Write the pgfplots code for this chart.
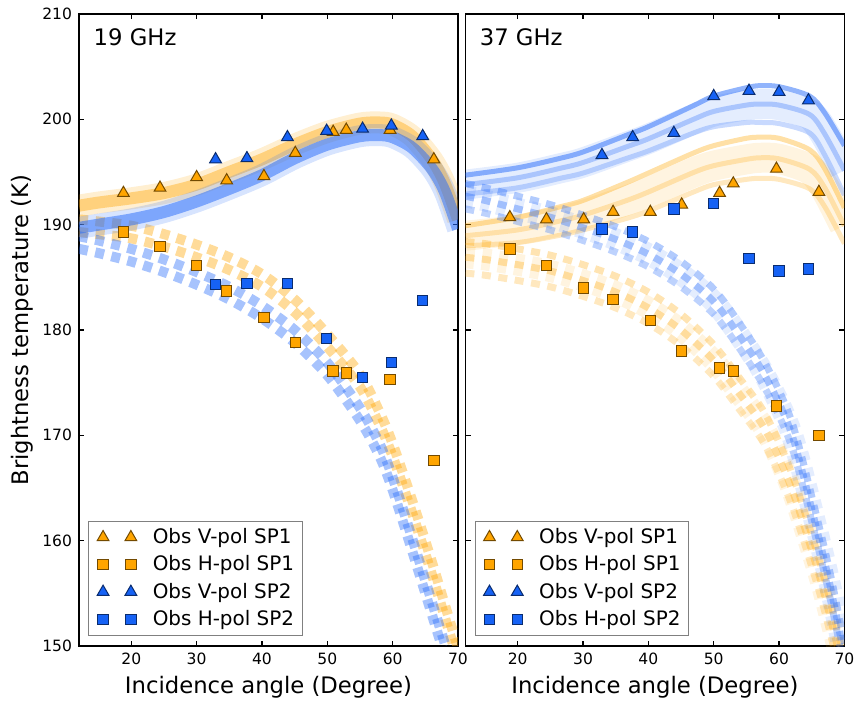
\documentclass[border=0pt]{standalone}
\usepackage{fontspec}
\setmainfont{DejaVu Sans}
\usepackage{pgfplots}
\usepackage{pgfplotstable}
\pgfplotsset{compat=1.18}

\definecolor{cOr}{RGB}{255,165,0}
\definecolor{cBl}{RGB}{22,98,245}
\definecolor{cBand}{RGB}{35,105,250}

% model curves, 19 GHz (H-pol as upper / lower member of the ensemble)
\pgfplotstableread{
x    vo    vb    hoU   hoL   hbU   hbL
12   191.8 189.7 190.5 189.3 188.9 187.7
15   192.1 190.0 190.3 189.1 188.5 187.3
20   192.5 190.5 189.9 188.7 187.7 186.5
25   193.0 191.2 189.1 187.9 186.7 185.5
30   193.8 192.2 188.1 186.9 185.5 184.3
35   195.0 193.4 186.9 185.7 184.1 182.9
40   196.2 194.7 185.3 184.1 182.3 181.1
45   197.6 196.3 182.9 181.7 180.0 178.8
50   198.8 197.6 179.6 178.4 176.9 175.7
55   199.6 198.4 175.8 174.6 172.6 171.4
58   199.7 198.5 172.2 171.0 169.2 168.0
60   199.5 198.3 169.2 168.0 166.0 164.8
63   198.4 197.3 163.8 162.6 160.2 159.0
66   196.2 195.3 158.0 156.8 154.2 153.0
68   193.9 193.1 153.9 152.7 150.2 149.0
70   190.5 189.6 149.8 148.6 146.1 144.9
}\aband

% model curves, 37 GHz, V-pol (upper / middle / lower member)
\pgfplotstableread{
x    bu    bm     bl    ou    om     ol
12   194.7 193.8  192.9 189.9 188.95 188.0
20   195.4 194.45 193.5 190.7 189.5  188.3
26.5 196.3 195.35 194.4 191.7 190.35 189.0
30   196.9 195.9  194.9 192.3 190.9  189.5
36.7 198.5 197.4  196.3 194.0 192.3  190.6
40   199.3 198.15 197.0 194.9 193.1  191.3
46.9 201.3 200.0  198.7 196.8 194.95 193.1
50   202.2 200.75 199.3 197.5 195.6  193.8
55   203.0 201.35 199.7 198.2 196.2  194.3
57.1 203.2 201.45 199.7 198.3 196.35 194.4
60   203.1 201.35 199.6 198.2 196.25 194.3
64.7 202.2 200.45 198.7 197.1 195.25 193.4
67   200.6 198.6  196.6 195.3 193.5  191.7
70   197.5 195.15 192.8 191.6 189.9  188.2
}\bvband

% model curves, 37 GHz, H-pol (upper / middle / lower member)
\pgfplotstableread{
x    hbU   hb    hbL   hoU   ho    hoL
12   193.9 192.7 191.5 188.4 186.9 185.4
15   193.5 192.3 191.1 188.2 186.7 185.2
20   192.7 191.5 190.3 187.7 186.2 184.7
25   191.9 190.7 189.5 187.1 185.6 184.1
30   190.9 189.7 188.5 186.2 184.7 183.2
35   189.8 188.6 187.4 185.1 183.6 182.1
40   188.4 187.2 186.0 183.6 182.1 180.6
45   186.5 185.3 184.1 181.5 180.0 178.5
50   183.9 182.7 181.5 178.6 177.1 175.6
54   180.6 179.4 178.2 175.4 173.9 172.4
58   176.7 175.5 174.3 171.9 170.4 168.9
62   171.2 170.0 168.8 166.3 164.8 163.3
66   161.7 160.5 159.3 158.5 157.0 155.5
68   156.4 155.2 154.0 153.8 152.3 150.8
70   150.2 149.0 147.8 148.7 147.2 145.7
}\bhband

\pgfplotsset{
  panel/.style={
    scale only axis, width=189.5bp, height=316bp,
    xmin=12, xmax=70, ymin=150, ymax=210,
    xtick={20,30,...,70}, ytick={150,160,...,210},
    xtick pos=both, ytick pos=both, tick align=inside,
    xticklabel pos=lower,
    major tick length=2.7bp,
    every tick/.style={black, line width=0.6bp},
    axis line style={line width=0.8bp},
    tick label style={font=\fontsize{7.8}{9}\selectfont},
    /pgf/number format/assume math mode=true,
    xlabel={Incidence angle (Degree)},
    xlabel style={at={(axis description cs:0.5,-0.075)}, anchor=base,
      font=\fontsize{11.4}{13}\selectfont},
    legend cell align=left,
    legend style={at={(0.0245,0.0158)}, anchor=south west,
      draw=black!50, line width=0.5bp, fill=white,
      font=\fontsize{10}{11}\selectfont,
      inner xsep=4.2bp, inner ysep=3.6bp, row sep=4.6bp, column sep=8bp,
      nodes={inner sep=0pt}},
    legend image code/.code={
      \draw[##1, only marks] plot coordinates {(0bp,0bp) (13.9bp,0bp)};},
  },
  vwide/.style={no markers, smooth, line width=11bp, opacity=0.18, forget plot},
  vcore/.style={no markers, smooth, line width=6bp, opacity=#1, forget plot},
  mline/.style={no markers, smooth, line width=2.5bp, opacity=#1, forget plot},
  hline/.style={no markers, smooth, line width=5bp, opacity=#1,
    dash pattern=on 4.5bp off 3.8bp, forget plot},
  hwide/.style={no markers, smooth, line width=11bp, opacity=0.12,
    dash pattern=on 4.5bp off 3.8bp, forget plot},
  hthin/.style={no markers, smooth, line width=3.5bp, opacity=#1,
    dash pattern=on 4.5bp off 3.8bp, forget plot},
  otri/.style={only marks, mark=triangle*, mark size=3.4bp, color=cOr,
    mark options={fill=cOr, draw=black!55!cOr, line width=0.5bp}},
  osq/.style={only marks, mark=square*, mark size=2.6bp, color=cOr,
    mark options={fill=cOr, draw=black!55!cOr, line width=0.5bp}},
  btri/.style={only marks, mark=triangle*, mark size=3.4bp, color=cBl,
    mark options={fill=cBl, draw=black!55!cBl, line width=0.5bp}},
  bsq/.style={only marks, mark=square*, mark size=2.6bp, color=cBl,
    mark options={fill=cBl, draw=black!55!cBl, line width=0.5bp}},
}

\begin{document}
\begin{tikzpicture}
\path[use as bounding box] (-39.5bp,-31bp) rectangle (389.5bp,323bp);

\begin{axis}[panel, at={(0,0)}, anchor=south west,
  ylabel={Brightness temperature (K)},
  ylabel style={at={(axis description cs:-0.150,0.5)}, anchor=center,
    font=\fontsize{11.4}{13}\selectfont}]
% SP1 model + obs
\addplot[vwide, cOr] table[y=vo] {\aband};
\addplot[vcore=0.4, cOr] table[y=vo] {\aband};
\addplot[hline=0.4, cOr] table[y=hoU] {\aband};
\addplot[hline=0.4, cOr] table[y=hoL] {\aband};
\addplot[otri] coordinates {(18.8,193.0) (24.4,193.5) (30.0,194.5) (34.6,194.2)
  (40.3,194.6) (45.1,196.8) (50.9,198.8) (52.9,199.0) (59.6,199.0) (66.3,196.2)};
\addlegendentry{Obs V-pol SP1}
\addplot[osq] coordinates {(18.8,189.3) (24.4,187.9) (30.0,186.1) (34.6,183.7)
  (40.3,181.2) (45.1,178.8) (50.9,176.1) (52.9,175.9) (59.6,175.3) (66.3,167.6)};
\addlegendentry{Obs H-pol SP1}
% SP2 model + obs
\addplot[vwide, cBand] table[y=vb] {\aband};
\addplot[vcore=0.5, cBand] table[y=vb] {\aband};
\addplot[hline=0.4, cBand] table[y=hbU] {\aband};
\addplot[hline=0.4, cBand] table[y=hbL] {\aband};
\addplot[btri] coordinates {(32.9,196.2) (37.7,196.3) (43.9,198.3) (49.9,198.9)
  (55.4,199.1) (59.8,199.4) (64.6,198.4)};
\addlegendentry{Obs V-pol SP2}
\addplot[bsq] coordinates {(32.9,184.3) (37.7,184.4) (43.9,184.4) (49.9,179.2)
  (55.4,175.5) (59.8,176.9) (64.6,182.8)};
\addlegendentry{Obs H-pol SP2}
\node[anchor=base west, font=\fontsize{11.4}{13}\selectfont]
  at (axis description cs:0.0203,0.9494) {19 GHz};
\end{axis}

\begin{axis}[panel, at={(193.2bp,0)}, anchor=south west, yticklabels={}]
\addplot[no markers, smooth, line width=15bp, opacity=0.12, forget plot, cOr]
  table[y=om] {\bvband};
\addplot[mline=0.35, cOr] table[y=ou] {\bvband};
\addplot[mline=0.25, cOr] table[y=om] {\bvband};
\addplot[mline=0.25, cOr] table[y=ol] {\bvband};
\addplot[hwide, cOr] table[y=ho] {\bhband};
\addplot[hthin=0.3, cOr] table[y=hoU] {\bhband};
\addplot[hthin=0.3, cOr] table[y=ho] {\bhband};
\addplot[hthin=0.25, cOr] table[y=hoL] {\bhband};
\addplot[otri] coordinates {(18.8,190.7) (24.4,190.5) (30.1,190.5) (34.6,191.2)
  (40.3,191.2) (45.1,191.9) (50.9,193.0) (53.0,193.9) (59.6,195.3) (66.1,193.1)};
\addlegendentry{Obs V-pol SP1}
\addplot[osq] coordinates {(18.8,187.7) (24.4,186.1) (30.1,184.0) (34.6,182.9)
  (40.3,180.9) (45.1,178.0) (50.9,176.4) (53.0,176.1) (59.6,172.8) (66.1,170.0)};
\addlegendentry{Obs H-pol SP1}
\addplot[no markers, smooth, line width=15bp, opacity=0.12, forget plot, cBand]
  table[y=bm] {\bvband};
\addplot[mline=0.5, cBand] table[y=bu] {\bvband};
\addplot[mline=0.3, cBand] table[y=bm] {\bvband};
\addplot[mline=0.25, cBand] table[y=bl] {\bvband};
\addplot[hwide, cBand] table[y=hb] {\bhband};
\addplot[hthin=0.35, cBand] table[y=hbU] {\bhband};
\addplot[hthin=0.35, cBand] table[y=hb] {\bhband};
\addplot[hthin=0.3, cBand] table[y=hbL] {\bhband};
\addplot[btri] coordinates {(32.9,196.6) (37.6,198.3) (43.9,198.7) (50.0,202.2)
  (55.4,202.7) (60.0,202.6) (64.5,201.8)};
\addlegendentry{Obs V-pol SP2}
\addplot[bsq] coordinates {(32.9,189.6) (37.6,189.3) (43.9,191.5) (50.0,192.0)
  (55.4,186.8) (60.0,185.6) (64.5,185.8)};
\addlegendentry{Obs H-pol SP2}
\node[anchor=base west, font=\fontsize{11.4}{13}\selectfont]
  at (axis description cs:0.0195,0.9494) {37 GHz};
\end{axis}
\end{tikzpicture}
\end{document}
